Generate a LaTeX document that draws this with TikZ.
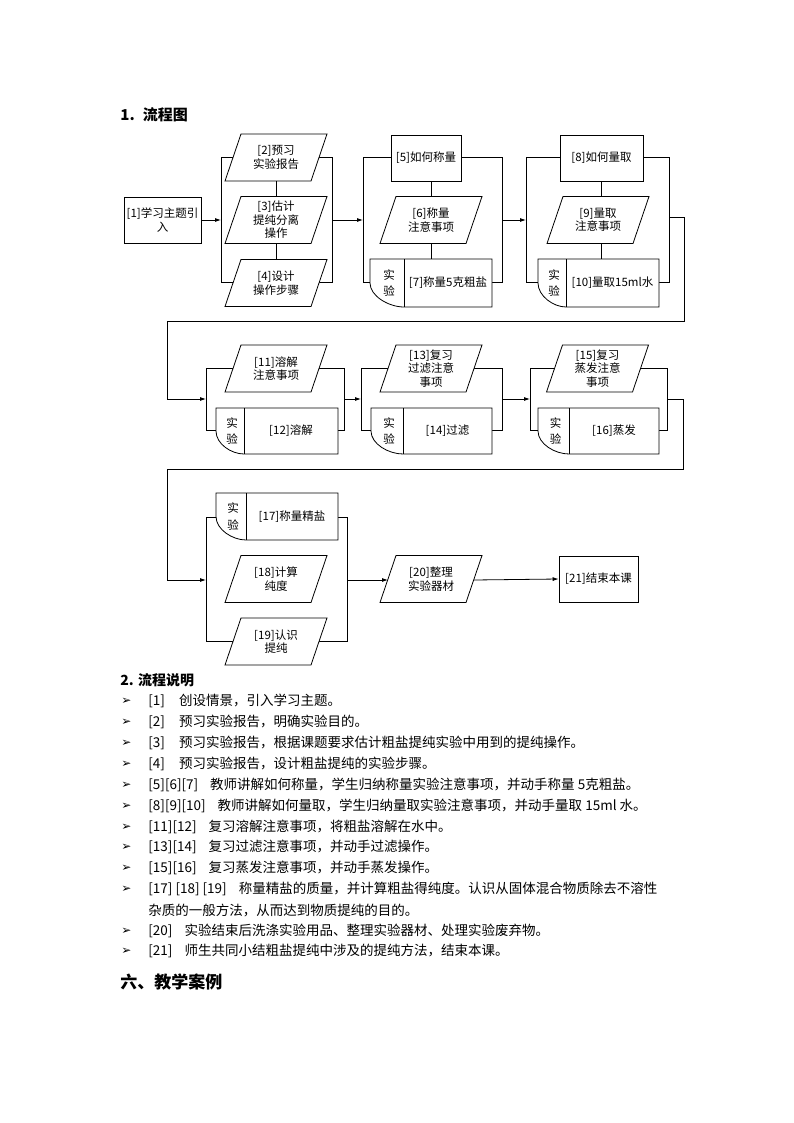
\documentclass[tikz,border=0pt]{standalone}
\usepackage{fontspec}
\setmainfont{Liberation Serif}
\newfontfamily\cjk{Noto Sans CJK SC}
\newfontfamily\sym{DejaVu Sans}
\usetikzlibrary{arrows.meta}
\begin{document}
\begin{tikzpicture}[x=1pt,y=-1pt,line width=0.8pt,
  btxt/.style={align=center,font=\cjk\fontsize{11.5}{13.5}\selectfont,inner sep=0pt},
  boxn/.style={draw,fill=white,btxt},
  flow/.style={-{Latex[length=6pt,width=4pt]}},
  ltxt/.style={anchor=west,font=\cjk\fontsize{13.5}{16}\selectfont,inner sep=0pt},
  bul/.style={anchor=west,font=\sym\fontsize{12}{14}\selectfont,inner sep=0pt}]
\newcommand\para[5]{%
  \draw[fill=white] (#2-#4/2,#3+23.5) -- (#2-#4/2+16,#3-23.5) -- (#2+#4/2,#3-23.5) -- (#2+#4/2-16,#3+23.5) -- cycle;
  \node[btxt] (#1) at (#2,#3) {#5};}
\newcommand\expt[7]{%
  \draw[fill=white] (#3,#5) -- (#2,#5) -- (#2,{(#5+#6)/2}) .. controls (#2,{(#5+#6)/2+13}) and ({#3-0.45*(#3-#2)},#6) .. (#3,#6) -- (#4,#6) -- (#4,#5) -- cycle;
  \draw (#3,#5) -- (#3,#6);
  \node[btxt] at ({(#2+#3)/2+2},{(#5+#6)/2}) {实\\[3pt]验};
  \node[btxt] (#1) at ({(#3+#4)/2},{(#5+#6)/2}) {#7};}
\fill[white] (0,0) rectangle (794,1123);
\useasboundingbox (0,0) rectangle (794,1123);
% headings
\node[ltxt,font=\cjk\bfseries\fontsize{15}{17}\selectfont] at (120,115) {1.\hspace{8pt}流程图};
% row 1
\node[boxn,minimum width=77pt,minimum height=46pt] (n1) at (162.5,220) {[1]学习主题引\\入};
\draw (221,157) rectangle (332,282);
\coordinate (b1in) at (221,220); \coordinate (b1out) at (332,220);
\draw (276,157) -- (276,283);
\para{n2}{276}{157.5}{102}{[2]预习\\实验报告}
\para{n3}{276}{220}{102}{[3]估计\\提纯分离\\操作}
\para{n4}{276}{283}{102}{[4]设计\\操作步骤}
\draw[flow] (n1.east) -- (b1in);
\draw (363,157) rectangle (502,282);
\coordinate (b2in) at (363,220); \coordinate (b2out) at (502,220);
\draw (431,158) -- (431,260);
\node[boxn,minimum width=70pt,minimum height=46pt] (n5) at (426,158) {[5]如何称量};
\para{n6}{431}{220}{102}{[6]称量\\注意事项}
\expt{n7}{370}{404}{492}{259}{307}{[7]称量5克粗盐}
\draw[flow] (b1out) -- (b2in);
\draw (526,157) rectangle (669,282);
\coordinate (b3in) at (526,220); \coordinate (b3out) at (669,217);
\draw (601,158) -- (601,260);
\node[boxn,minimum width=83pt,minimum height=46pt] (n8) at (601.5,158) {[8]如何量取};
\para{n9}{598}{220}{102}{[9]量取\\注意事项}
\expt{n10}{538}{566}{659}{259}{307}{[10]量取15ml水}
\draw[flow] (b2out) -- (b3in);
% row 2
\draw (206,368) rectangle (344,430);
\coordinate (b4in) at (206,399); \coordinate (b4out) at (344,399);
\para{n11}{276}{368.5}{102}{[11]溶解\\注意事项}
\expt{n12}{216}{244}{338}{408}{454}{[12]溶解}
\draw[flow] (b3out) -- (684,217) -- (684,321) -- (167,321) -- (167,399) -- (b4in);
\draw (361,368) rectangle (502,430);
\coordinate (b5in) at (361,399); \coordinate (b5out) at (502,399);
\para{n13}{431}{368.5}{102}{[13]复习\\过滤注意\\事项}
\expt{n14}{371}{403}{492}{408}{454}{[14]过滤}
\draw[flow] (b4out) -- (b5in);
\draw (530,368) rectangle (667,430);
\coordinate (b6in) at (530,399); \coordinate (b6out) at (667,399);
\para{n15}{597.5}{368.5}{102}{[15]复习\\蒸发注意\\事项}
\expt{n16}{538}{569}{659}{408}{454}{[16]蒸发}
\draw[flow] (b5out) -- (b6in);
% row 3
\draw (206,517) rectangle (347,641);
\coordinate (b7in) at (206,580); \coordinate (b7out) at (347,580);
\expt{n17}{216}{246}{338}{493}{540}{[17]称量精盐}
\para{n18}{276}{579}{102}{[18]计算\\纯度}
\para{n19}{276}{641.5}{102}{[19]认识\\提纯}
\draw[flow] (b6out) -- (683,399) -- (683,469) -- (167,469) -- (167,580) -- (b7in);
\para{n20}{431}{579}{102}{[20]整理\\实验器材}
\coordinate (n20w) at (388,580); \coordinate (n20e) at (474,580);
\node[boxn,minimum width=79pt,minimum height=46pt] (n21) at (598.5,579) {[21]结束本课};
\draw[flow] (b7out) -- (n20w);
\draw[flow] (n20e) -- (n21.west);
% text
\node[ltxt,font=\cjk\bfseries\fontsize{14}{16}\selectfont] at (120,680) {2. 流程说明};
\foreach \yy in {701,722,743,764,785,806,827,847,868,889,931,951} {\node[bul] at (121,\yy) {➢};}
\node[ltxt] at (148,701) {[1]\hspace{14pt}创设情景，引入学习主题。};
\node[ltxt] at (148,722) {[2]\hspace{14pt}预习实验报告，明确实验目的。};
\node[ltxt] at (148,743) {[3]\hspace{14pt}预习实验报告，根据课题要求估计粗盐提纯实验中用到的提纯操作。};
\node[ltxt] at (148,764) {[4]\hspace{14pt}预习实验报告，设计粗盐提纯的实验步骤。};
\node[ltxt] at (148,785) {[5][6][7]\hspace{12pt}教师讲解如何称量，学生归纳称量实验注意事项，并动手称量 5克粗盐。};
\node[ltxt] at (148,806) {[8][9][10]\hspace{12pt}教师讲解如何量取，学生归纳量取实验注意事项，并动手量取 15ml 水。};
\node[ltxt] at (148,827) {[11][12]\hspace{12pt}复习溶解注意事项，将粗盐溶解在水中。};
\node[ltxt] at (148,847) {[13][14]\hspace{12pt}复习过滤注意事项，并动手过滤操作。};
\node[ltxt] at (148,868) {[15][16]\hspace{12pt}复习蒸发注意事项，并动手蒸发操作。};
\node[ltxt] at (148,889) {[17] [18] [19]\hspace{12pt}称量精盐的质量，并计算粗盐得纯度。认识从固体混合物质除去不溶性};
\node[ltxt] at (148,910) {杂质的一般方法，从而达到物质提纯的目的。};
\node[ltxt] at (148,931) {[20]\hspace{12pt}实验结束后洗涤实验用品、整理实验器材、处理实验废弃物。};
\node[ltxt] at (148,951) {[21]\hspace{12pt}师生共同小结粗盐提纯中涉及的提纯方法，结束本课。};
\node[ltxt,font=\cjk\bfseries\fontsize{17}{19}\selectfont] at (120,982) {六、教学案例};
\end{tikzpicture}
\end{document}
